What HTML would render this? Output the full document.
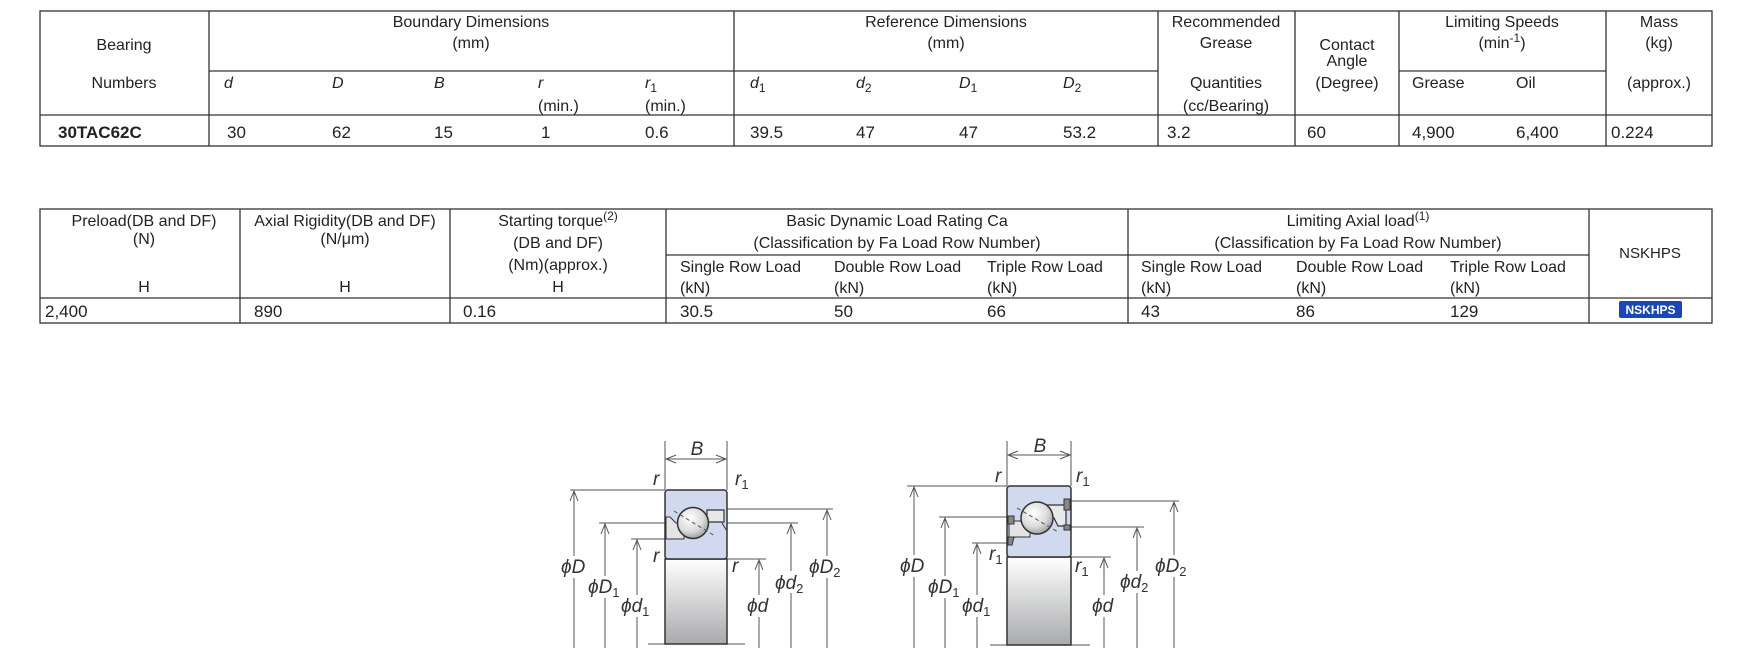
<!DOCTYPE html>
<html><head><meta charset="utf-8"><style>
html,body{margin:0;padding:0;background:#fff;}
svg{display:block;}
text{font-family:"Liberation Sans",Arial,sans-serif;fill:#222;}
.t{font-size:16px;}
.c{text-anchor:middle;}
.i{font-style:italic;}
.lab{font-size:19px;font-style:italic;fill:#333;}
.sub{font-size:12px;}
</style></head><body>
<svg width="1754" height="662" viewBox="0 0 1754 662" xmlns="http://www.w3.org/2000/svg">
<defs>
<linearGradient id="gg" x1="0" y1="0" x2="0" y2="1"><stop offset="0" stop-color="#ffffff"/><stop offset="1" stop-color="#a9aaac"/></linearGradient>
<radialGradient id="bg" cx="0.4" cy="0.35" r="0.7"><stop offset="0" stop-color="#ffffff"/><stop offset="0.6" stop-color="#dcdcdc"/><stop offset="1" stop-color="#9a9a9a"/></radialGradient>
<marker id="ar" markerWidth="12" markerHeight="10" refX="11" refY="5" orient="auto" markerUnits="userSpaceOnUse"><path d="M1,1 L11,5 L1,9" fill="none" stroke="#555" stroke-width="1"/></marker>
<marker id="al" markerWidth="12" markerHeight="10" refX="1" refY="5" orient="auto" markerUnits="userSpaceOnUse"><path d="M11,1 L1,5 L11,9" fill="none" stroke="#555" stroke-width="1"/></marker>
<marker id="arr" markerWidth="12" markerHeight="10" refX="11" refY="5" orient="auto" markerUnits="userSpaceOnUse"><path d="M1,1 L11,5 L1,9" fill="none" stroke="#555" stroke-width="1"/></marker>
</defs>

<!-- TABLE 1 -->
<g stroke="#333" stroke-width="1.3" fill="none">
<rect x="40" y="11" width="1672" height="135"/>
<line x1="209" y1="11" x2="209" y2="146"/>
<line x1="734" y1="11" x2="734" y2="146"/>
<line x1="1158" y1="11" x2="1158" y2="146"/>
<line x1="1295" y1="11" x2="1295" y2="146"/>
<line x1="1399" y1="11" x2="1399" y2="146"/>
<line x1="1606" y1="11" x2="1606" y2="146"/>
<line x1="209" y1="71" x2="1158" y2="71"/>
<line x1="1399" y1="71" x2="1606" y2="71"/>
<line x1="40" y1="115" x2="1712" y2="115"/>
</g>
<g class="t">
<text x="124" y="50" class="c t">Bearing</text>
<text x="124" y="88" class="c t">Numbers</text>
<text x="471" y="27" class="c t">Boundary Dimensions</text>
<text x="471" y="48" class="c t">(mm)</text>
<text x="946" y="27" class="c t">Reference Dimensions</text>
<text x="946" y="48" class="c t">(mm)</text>
<text x="1226" y="27" class="c t">Recommended</text>
<text x="1226" y="48" class="c t">Grease</text>
<text x="1226" y="88" class="c t">Quantities</text>
<text x="1226" y="111" class="c t">(cc/Bearing)</text>
<text x="1347" y="50" class="c t">Contact</text>
<text x="1347" y="66" class="c t">Angle</text>
<text x="1347" y="88" class="c t">(Degree)</text>
<text x="1502" y="27" class="c t">Limiting Speeds</text>
<text x="1502" y="48" class="c t">(min<tspan class="sub" dy="-6">-1</tspan><tspan dy="6">)</tspan></text>
<text x="1412" y="88" class="t">Grease</text>
<text x="1516" y="88" class="t">Oil</text>
<text x="1659" y="27" class="c t">Mass</text>
<text x="1659" y="48" class="c t">(kg)</text>
<text x="1659" y="88" class="c t">(approx.)</text>
<text x="224" y="88" class="t i">d</text>
<text x="332" y="88" class="t i">D</text>
<text x="434" y="88" class="t i">B</text>
<text x="538" y="88" class="t i">r</text>
<text x="538" y="111" class="t">(min.)</text>
<text x="645" y="88" class="t i">r<tspan class="sub" dy="4" font-style="normal">1</tspan></text>
<text x="645" y="111" class="t">(min.)</text>
<text x="750" y="88" class="t i">d<tspan class="sub" dy="4" font-style="normal">1</tspan></text>
<text x="856" y="88" class="t i">d<tspan class="sub" dy="4" font-style="normal">2</tspan></text>
<text x="959" y="88" class="t i">D<tspan class="sub" dy="4" font-style="normal">1</tspan></text>
<text x="1063" y="88" class="t i">D<tspan class="sub" dy="4" font-style="normal">2</tspan></text>
<text x="58" y="138" font-size="17" font-weight="bold">30TAC62C</text>
<text x="227" y="138" font-size="17">30</text>
<text x="332" y="138" font-size="17">62</text>
<text x="434" y="138" font-size="17">15</text>
<text x="541" y="138" font-size="17">1</text>
<text x="645" y="138" font-size="17">0.6</text>
<text x="750" y="138" font-size="17">39.5</text>
<text x="856" y="138" font-size="17">47</text>
<text x="959" y="138" font-size="17">47</text>
<text x="1063" y="138" font-size="17">53.2</text>
<text x="1167" y="138" font-size="17">3.2</text>
<text x="1307" y="138" font-size="17">60</text>
<text x="1412" y="138" font-size="17">4,900</text>
<text x="1516" y="138" font-size="17">6,400</text>
<text x="1611" y="138" font-size="17">0.224</text>
</g>

<!-- TABLE 2 -->
<g stroke="#333" stroke-width="1.3" fill="none">
<rect x="40" y="209" width="1672" height="114"/>
<line x1="240" y1="209" x2="240" y2="323"/>
<line x1="450" y1="209" x2="450" y2="323"/>
<line x1="666" y1="209" x2="666" y2="323"/>
<line x1="1128" y1="209" x2="1128" y2="323"/>
<line x1="1589" y1="209" x2="1589" y2="323"/>
<line x1="666" y1="255" x2="1589" y2="255"/>
<line x1="40" y1="298" x2="1712" y2="298"/>
</g>
<g>
<text x="144" y="226" class="c t">Preload(DB and DF)</text>
<text x="144" y="244" class="c t">(N)</text>
<text x="144" y="292" class="c t">H</text>
<text x="345" y="226" class="c t">Axial Rigidity(DB and DF)</text>
<text x="345" y="244" class="c t">(N/μm)</text>
<text x="345" y="292" class="c t">H</text>
<text x="558" y="226" class="c t">Starting torque<tspan class="sub" dy="-6">(2)</tspan></text>
<text x="558" y="248" class="c t">(DB and DF)</text>
<text x="558" y="270" class="c t">(Nm)(approx.)</text>
<text x="558" y="292" class="c t">H</text>
<text x="897" y="226" class="c t">Basic Dynamic Load Rating Ca</text>
<text x="897" y="248" class="c t">(Classification by Fa Load  Row Number)</text>
<text x="1358" y="226" class="c t">Limiting Axial load<tspan class="sub" dy="-6">(1)</tspan></text>
<text x="1358" y="248" class="c t">(Classification by Fa Load  Row Number)</text>
<text x="680" y="272" class="t">Single Row Load</text>
<text x="834" y="272" class="t">Double Row Load</text>
<text x="987" y="272" class="t">Triple Row Load</text>
<text x="1141" y="272" class="t">Single Row Load</text>
<text x="1296" y="272" class="t">Double Row Load</text>
<text x="1450" y="272" class="t">Triple Row Load</text>
<text x="680" y="293" class="t">(kN)</text>
<text x="834" y="293" class="t">(kN)</text>
<text x="987" y="293" class="t">(kN)</text>
<text x="1141" y="293" class="t">(kN)</text>
<text x="1296" y="293" class="t">(kN)</text>
<text x="1450" y="293" class="t">(kN)</text>
<text x="1650" y="258" class="c" font-size="15">NSKHPS</text>
<text x="45" y="317" font-size="17">2,400</text>
<text x="254" y="317" font-size="17">890</text>
<text x="463" y="317" font-size="17">0.16</text>
<text x="680" y="317" font-size="17">30.5</text>
<text x="834" y="317" font-size="17">50</text>
<text x="987" y="317" font-size="17">66</text>
<text x="1141" y="317" font-size="17">43</text>
<text x="1296" y="317" font-size="17">86</text>
<text x="1450" y="317" font-size="17">129</text>
<rect x="1619" y="301" width="63" height="17" rx="2" fill="#1947b5"/>
<text x="1650.5" y="314" class="c" font-size="12" font-weight="bold" style="fill:#fff">NSKHPS</text>
</g>

<!-- LEFT DIAGRAM -->
<g stroke="#555" stroke-width="1" fill="none">
<line x1="665" y1="441" x2="665" y2="490"/>
<line x1="727" y1="441" x2="727" y2="490"/>
<line x1="666" y1="459" x2="726" y2="459" marker-start="url(#al)" marker-end="url(#arr)"/>
<line x1="570" y1="490" x2="665" y2="490"/>
<line x1="574" y1="648" x2="574" y2="491" marker-end="url(#ar)"/>
<line x1="599" y1="523" x2="680" y2="523"/>
<line x1="605" y1="648" x2="605" y2="524" marker-end="url(#ar)"/>
<line x1="631" y1="539" x2="687" y2="539"/>
<line x1="637" y1="648" x2="637" y2="540" marker-end="url(#ar)"/>
<line x1="707" y1="509" x2="833" y2="509"/>
<line x1="827" y1="648" x2="827" y2="510" marker-end="url(#ar)"/>
<line x1="722" y1="523" x2="798" y2="523"/>
<line x1="791" y1="648" x2="791" y2="524" marker-end="url(#ar)"/>
<line x1="727" y1="559" x2="766" y2="559"/>
<line x1="759" y1="648" x2="759" y2="560" marker-end="url(#ar)"/>
<line x1="648" y1="644" x2="745" y2="644"/>
</g>
<rect x="665" y="559" width="62" height="85" fill="url(#gg)" stroke="#333" stroke-width="1.5"/>
<rect x="665" y="490" width="62" height="69" rx="3" fill="#d0d9ee" stroke="#333" stroke-width="1.5"/>
<path d="M666,517 L670,517 L676,523 L684,523 L684,539 L666,539 Z" fill="#e4e4e4" stroke="#333" stroke-width="1"/>
<path d="M707,510 L724,510 L724,522 L707,522 Z" fill="#e8e8e8" stroke="#333" stroke-width="1.2"/>
<path d="M722,523 L727,531" stroke="#333" stroke-width="1"/>
<circle cx="693" cy="523" r="15.5" fill="url(#bg)" stroke="#333" stroke-width="1.5"/>
<line x1="674" y1="511" x2="715" y2="536" stroke="#555" stroke-width="1" stroke-dasharray="4,3"/>
<g>
<rect x="560" y="556" width="30" height="22" fill="#fff"/>
<rect x="588" y="576" width="33" height="22" fill="#fff"/>
<rect x="620" y="595" width="32" height="22" fill="#fff"/>
<rect x="746" y="595" width="27" height="22" fill="#fff"/>
<rect x="775" y="571" width="33" height="22" fill="#fff"/>
<rect x="809" y="556" width="36" height="22" fill="#fff"/>
<text x="697" y="455" class="lab c">B</text>
<text x="653" y="485" class="lab">r</text>
<text x="735" y="485" class="lab">r<tspan font-size="13" font-style="normal" dy="4">1</tspan></text>
<text x="653" y="562" class="lab">r</text>
<text x="732" y="572" class="lab">r</text>
<text x="561" y="573" class="lab">ϕD</text>
<text x="588" y="593" class="lab">ϕD<tspan font-size="13" font-style="normal" dy="4">1</tspan></text>
<text x="621" y="612" class="lab">ϕd<tspan font-size="13" font-style="normal" dy="4">1</tspan></text>
<text x="747" y="612" class="lab">ϕd</text>
<text x="775" y="589" class="lab">ϕd<tspan font-size="13" font-style="normal" dy="4">2</tspan></text>
<text x="809" y="573" class="lab">ϕD<tspan font-size="13" font-style="normal" dy="4">2</tspan></text>
</g>

<!-- RIGHT DIAGRAM -->
<g stroke="#555" stroke-width="1" fill="none">
<line x1="1007" y1="441" x2="1007" y2="486"/>
<line x1="1071" y1="441" x2="1071" y2="486"/>
<line x1="1008" y1="455" x2="1070" y2="455" marker-start="url(#al)" marker-end="url(#arr)"/>
<line x1="907" y1="486" x2="1007" y2="486"/>
<line x1="914" y1="648" x2="914" y2="487" marker-end="url(#ar)"/>
<line x1="939" y1="517" x2="1012" y2="517"/>
<line x1="945" y1="648" x2="945" y2="518" marker-end="url(#ar)"/>
<line x1="972" y1="543" x2="1010" y2="543"/>
<line x1="977" y1="648" x2="977" y2="544" marker-end="url(#ar)"/>
<line x1="1067" y1="501" x2="1179" y2="501"/>
<line x1="1174" y1="648" x2="1174" y2="502" marker-end="url(#ar)"/>
<line x1="1067" y1="527" x2="1144" y2="527"/>
<line x1="1137" y1="648" x2="1137" y2="528" marker-end="url(#ar)"/>
<line x1="1071" y1="557" x2="1111" y2="557"/>
<line x1="1104" y1="648" x2="1104" y2="558" marker-end="url(#ar)"/>
<line x1="990" y1="645" x2="1090" y2="645"/>
</g>
<rect x="1007" y="557" width="64" height="88" fill="url(#gg)" stroke="#333" stroke-width="1.5"/>
<rect x="1007" y="486" width="64" height="71" rx="3" fill="#d0d9ee" stroke="#333" stroke-width="1.5"/>
<path d="M1009,521 L1020,521 L1024,524 L1030,524 L1030,537 L1015,537 L1009,541 Z" fill="#e4e4e4" stroke="#333" stroke-width="1"/>
<path d="M1008,516 L1014,516 L1014,524 L1008,524 Z M1008,537 L1014,537 L1012,545 L1008,545 Z" fill="#888" stroke="#333" stroke-width="1"/>
<path d="M1047,505 L1066,505 L1066,526 L1058,526 L1054,518 L1047,518 Z" fill="#e8e8e8" stroke="#333" stroke-width="1.2"/>
<path d="M1064,499 L1070,499 L1070,510 L1064,510 Z M1064,525 L1070,525 L1070,530 L1064,530 Z" fill="#888" stroke="#333" stroke-width="1"/>
<circle cx="1037" cy="518" r="16" fill="url(#bg)" stroke="#333" stroke-width="1.5"/>
<line x1="1017" y1="508" x2="1058" y2="532" stroke="#555" stroke-width="1" stroke-dasharray="4,3"/>
<g>
<rect x="898" y="555" width="32" height="22" fill="#fff"/>
<rect x="928" y="576" width="33" height="22" fill="#fff"/>
<rect x="961" y="595" width="32" height="22" fill="#fff"/>
<rect x="1091" y="595" width="28" height="22" fill="#fff"/>
<rect x="1120" y="571" width="33" height="22" fill="#fff"/>
<rect x="1155" y="555" width="36" height="22" fill="#fff"/>
<text x="1040" y="452" class="lab c">B</text>
<text x="995" y="482" class="lab">r</text>
<text x="1076" y="482" class="lab">r<tspan font-size="13" font-style="normal" dy="4">1</tspan></text>
<text x="989" y="560" class="lab">r<tspan font-size="13" font-style="normal" dy="4">1</tspan></text>
<text x="1075" y="572" class="lab">r<tspan font-size="13" font-style="normal" dy="4">1</tspan></text>
<text x="900" y="572" class="lab">ϕD</text>
<text x="928" y="593" class="lab">ϕD<tspan font-size="13" font-style="normal" dy="4">1</tspan></text>
<text x="962" y="612" class="lab">ϕd<tspan font-size="13" font-style="normal" dy="4">1</tspan></text>
<text x="1092" y="612" class="lab">ϕd</text>
<text x="1120" y="588" class="lab">ϕd<tspan font-size="13" font-style="normal" dy="4">2</tspan></text>
<text x="1155" y="572" class="lab">ϕD<tspan font-size="13" font-style="normal" dy="4">2</tspan></text>
</g>
</svg>
</body></html>
